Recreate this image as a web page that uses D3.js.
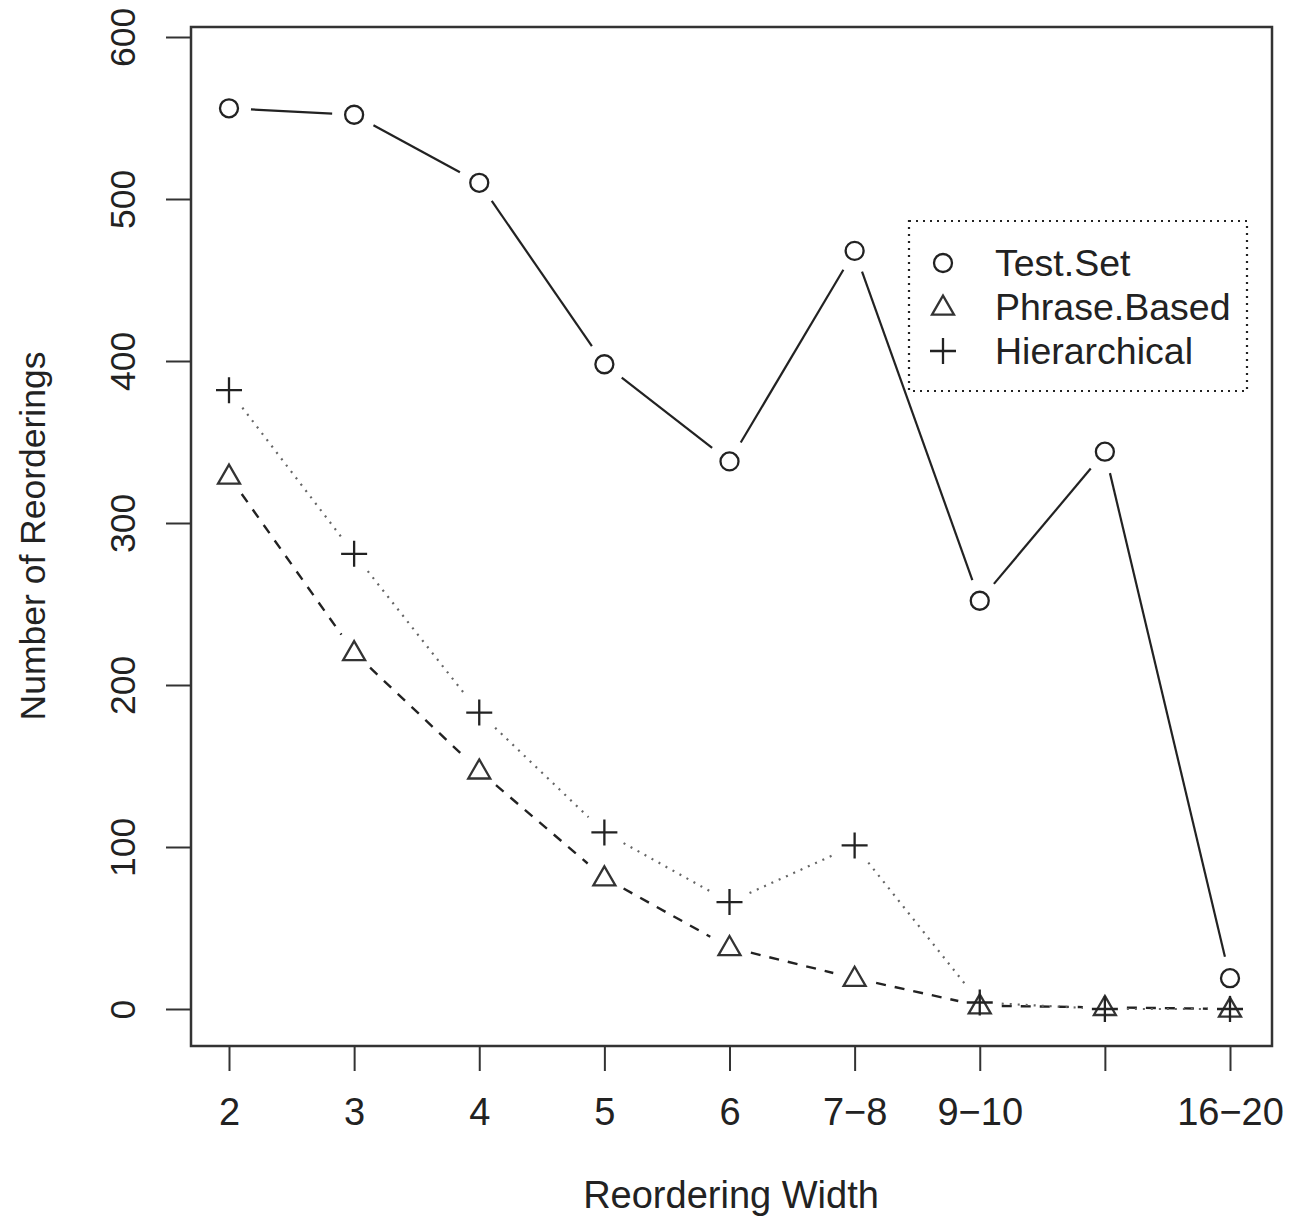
<!DOCTYPE html>
<html>
<head>
<meta charset="utf-8">
<script src="https://cdn.jsdelivr.net/npm/d3@7"></script>
<style>
  html, body { margin: 0; padding: 0; background: #fff; }
  svg { display: block; }
  text { font-family: "Liberation Sans", Arial, sans-serif; fill: #222; }
</style>
</head>
<body>
<svg id="chart" width="1291" height="1219"></svg>
<script>
// ---- data ----
const categories = ["2", "3", "4", "5", "6", "7\u22128", "9\u221210", "11\u221215", "16\u221220"];
const hiddenLabels = ["11\u221215"];
const testSet     = [556, 552, 510, 398, 338, 468, 252, 344, 19];
const phraseBased = [329, 220, 147, 81, 38, 19, 2, 1, 0];
const hierarchical= [382, 281, 183, 109, 66, 101, 4, 0, 0];
const yTicks = [0, 100, 200, 300, 400, 500, 600];
const seriesNames = ["Test.Set", "Phrase.Based", "Hierarchical"];

// ---- layout ----
const svg = d3.select("#chart");
const box = { left: 191, right: 1272, top: 27, bottom: 1046 };
const ink = "#222";

const x = d3.scalePoint().domain(categories).range([229, 1230]);
const y = d3.scaleLinear().domain([0, 600]).range([1009, 37]);

// plot box
svg.append("rect")
  .attr("x", box.left).attr("y", box.top)
  .attr("width", box.right - box.left).attr("height", box.bottom - box.top)
  .attr("fill", "none").attr("stroke", "#333").attr("stroke-width", 2.5);

// y axis
const yAxisG = svg.append("g")
  .attr("transform", `translate(${box.left},0)`)
  .call(d3.axisLeft(y).tickValues(yTicks).tickSize(25).tickFormat(d3.format("d")));
yAxisG.select(".domain").remove();
yAxisG.selectAll(".tick line").attr("stroke", "#333").attr("stroke-width", 2);
yAxisG.selectAll(".tick text")
  .attr("x", null).attr("dy", null)
  .attr("transform", "translate(-56,0) rotate(-90)")
  .attr("text-anchor", "middle")
  .style("font-size", "35.5px")
  .attr("fill", ink);

// x axis
const xAxisG = svg.append("g")
  .attr("transform", `translate(0,${box.bottom})`)
  .call(d3.axisBottom(x).tickSize(25).tickFormat(d => hiddenLabels.includes(d) ? "" : d));
xAxisG.select(".domain").remove();
xAxisG.selectAll(".tick line").attr("stroke", "#333").attr("stroke-width", 2);
xAxisG.selectAll(".tick text")
  .attr("y", 79).attr("dy", null)
  .style("font-size", "38px")
  .attr("fill", ink);

// axis titles
svg.append("text")
  .attr("x", 731).attr("y", 1208)
  .attr("text-anchor", "middle")
  .style("font-size", "38px")
  .text("Reordering Width");
svg.append("text")
  .attr("transform", "translate(45,536) rotate(-90)")
  .attr("text-anchor", "middle")
  .style("font-size", "35.5px")
  .text("Number of Reorderings");

// ---- series lines with gaps (type = "b") ----
const gap = 22;
function segments(values) {
  const pts = values.map((v, i) => [x(categories[i]), y(v)]);
  const segs = [];
  for (let i = 0; i < pts.length - 1; i++) {
    const [x1, y1] = pts[i], [x2, y2] = pts[i + 1];
    const dx = x2 - x1, dy = y2 - y1, d = Math.hypot(dx, dy);
    if (d <= 2 * gap) continue;
    const ux = dx / d, uy = dy / d;
    segs.push([[x1 + ux * gap, y1 + uy * gap], [x2 - ux * gap, y2 - uy * gap]]);
  }
  return segs;
}
const line = d3.line();

function drawLines(values, stroke, dash, width) {
  svg.append("g").selectAll("path")
    .data(segments(values))
    .join("path")
    .attr("d", line)
    .attr("fill", "none")
    .attr("stroke", stroke)
    .attr("stroke-width", width)
    .attr("stroke-dasharray", dash);
}
drawLines(testSet, ink, null, 2.2);
drawLines(phraseBased, ink, "10,9", 2.4);
drawLines(hierarchical, "#666", "2,6", 2.2);

// ---- markers ----
const sym = {
  circle: d3.symbol().type(d3.symbolCircle).size(Math.PI * 9 * 9),
  triangle: (cx, cy) => {
    const s = 22, h = s * Math.sqrt(3) / 2;
    return `M${cx},${cy - h * 0.6}L${cx + s / 2},${cy + h * 0.4}L${cx - s / 2},${cy + h * 0.4}Z`;
  },
  plus: (cx, cy) => {
    const a = 13;
    return `M${cx - a},${cy}H${cx + a}M${cx},${cy - a}V${cy + a}`;
  }
};

function drawMarkers(values, kind) {
  svg.append("g").selectAll("path")
    .data(values)
    .join("path")
    .attr("d", (v, i) => kind === "circle" ? sym.circle() : sym[kind](x(categories[i]), y(v)))
    .attr("transform", (v, i) => kind === "circle" ? `translate(${x(categories[i])},${y(v)})` : null)
    .attr("fill", "none")
    .attr("stroke", kind === "triangle" ? "#333" : ink)
    .attr("stroke-width", 2.3);
}
drawMarkers(testSet, "circle");
drawMarkers(phraseBased, "triangle");
drawMarkers(hierarchical, "plus");

// ---- legend ----
const legend = svg.append("g");
legend.append("rect")
  .attr("x", 909).attr("y", 221).attr("width", 338).attr("height", 170)
  .attr("fill", "#fff").attr("stroke", ink).attr("stroke-width", 2.2)
  .attr("stroke-dasharray", "2,5");
const kinds = ["circle", "triangle", "plus"];
const rowY = d3.scalePoint().domain(seriesNames).range([263, 351]);
seriesNames.forEach((name, i) => {
  const cy = rowY(name), cx = 943;
  const k = kinds[i];
  legend.append("path")
    .attr("d", k === "circle" ? sym.circle() : sym[k](cx, cy))
    .attr("transform", k === "circle" ? `translate(${cx},${cy})` : null)
    .attr("fill", "none")
    .attr("stroke", k === "triangle" ? "#333" : ink)
    .attr("stroke-width", 2.3);
  legend.append("text")
    .attr("x", 995).attr("y", cy + 12.5)
    .style("font-size", "37.5px")
    .text(name);
});
</script>
</body>
</html>
